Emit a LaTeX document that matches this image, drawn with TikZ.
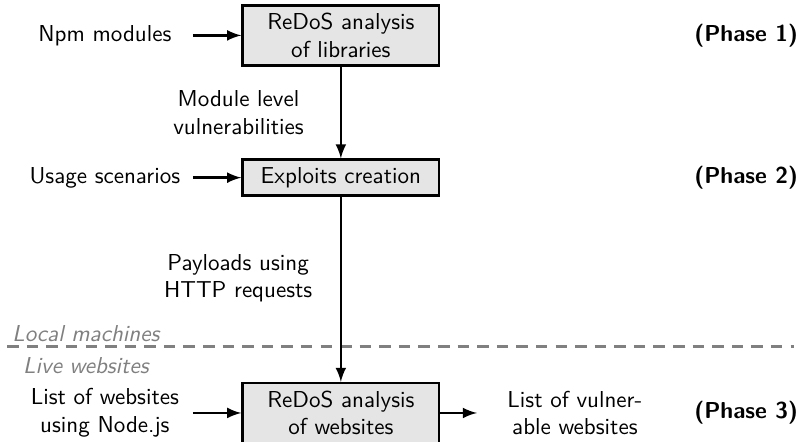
\documentclass[tikz,border=0pt]{standalone}
\usepackage{tikz}
\usetikzlibrary{arrows, positioning}

\begin{document}
\begin{tikzpicture}[
    font=\sffamily,
    stage/.style={rectangle, draw, line width=1.1pt, minimum width=3cm, align=center, fill=gray!20},
    input/.style={rectangle, text width=2.44cm, align=center},
    phase/.style={font=\sffamily\bfseries, anchor=east, inner sep=0pt},
    realm/.style={text=gray, font=\sffamily\itshape},
    arrow/.style={-latex, line width=1.1pt}
]
    \useasboundingbox (-5.20,0.54) rectangle (7.05,-6.20);

    \node[stage] (libs) at (0,0) {ReDoS analysis\\of libraries};
    \node[stage] (exploits) at (0,-2.17) {Exploits creation};
    \node[stage] (webs) at (0,-5.76) {ReDoS analysis\\of websites};

    \node[input] (npm) at (-3.6,0) {Npm modules};
    \node[input] (usage) at (-3.6,-2.17) {Usage scenarios};
    \node[input] (sites) at (-3.6,-5.76) {List of websites\\using Node.js};
    \node[input, text width=2.74cm] (vuln) at (3.57,-5.76) {List of vulner-\\able websites};

    \node[phase] (ph1) at (6.98,0) {(Phase 1)};
    \node[phase] (ph2) at (6.98,-2.17) {(Phase 2)};
    \node[phase] (ph3) at (6.98,-5.76) {(Phase 3)};

    % border between local work and live sites
    \coordinate (sepL) at (-5.09,-4.75);
    \coordinate (sepR) at (6.92,-4.75);
    \draw[gray, line width=1.1pt, dash pattern=on 5pt off 3.5pt] (sepL) -- (sepR);
    \node[realm] (local) at (-3.89,-4.55) {Local machines};
    \node[realm] (live) at (-3.89,-5.04) {Live websites};

    \draw[arrow] (npm) -- (libs);
    \draw[arrow] (usage) -- (exploits);
    \draw[arrow] (sites) -- (webs);
    \draw[arrow] (webs) -- (vuln);
    \draw[arrow] (libs) -- node[left=0.43cm, align=center] {Module level\\vulnerabilities} (exploits);
    \draw[arrow] (exploits) -- node[pos=0.44, left=0.3cm, align=center] {Payloads using\\HTTP requests} (webs);
\end{tikzpicture}
\end{document}
